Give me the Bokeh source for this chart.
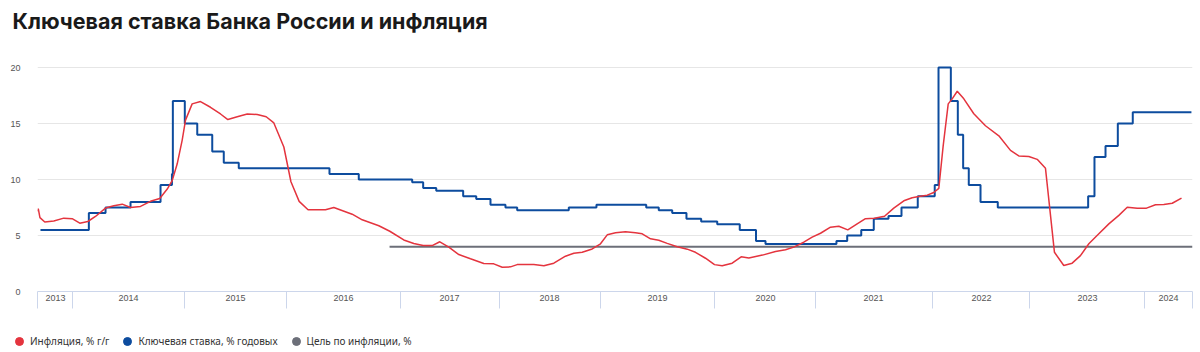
import numpy as np
from bokeh.plotting import figure
from bokeh.layouts import column
from bokeh.models import Range1d, FixedTicker, Legend, LegendItem, Label
from bokeh.embed import file_html
from bokeh.resources import INLINE

title_text = "Ключевая ставка Банка России и инфляция"

# x axis: year segments (ordinal-like axis, each year has its own width)
years = ["2013", "2014", "2015", "2016", "2017", "2018", "2019", "2020", "2021", "2022", "2023", "2024"]
year_axis_weight = [35, 112, 102, 114, 99, 101, 114, 101, 117, 97, 115, 48]
axis_start_t = 2013.6667
axis_end_t = 2024.45

y_ticks = [0, 5, 10, 15, 20]

# Key rate (step, value valid from date)
rate_t = [2013.695, 2014.146, 2014.295, 2014.518, 2014.786, 2014.888, 2014.896,
          2015.003, 2015.125, 2015.272, 2015.385, 2015.532,
          2016.377, 2016.634,
          2017.118, 2017.229, 2017.361, 2017.633, 2017.765, 2017.909,
          2018.059, 2018.175, 2018.686, 2018.960,
          2019.401, 2019.511, 2019.629, 2019.754, 2019.883,
          2020.027, 2020.250, 2020.411, 2020.505,
          2021.179, 2021.271, 2021.391, 2021.498, 2021.624, 2021.735, 2021.874,
          2022.023, 2022.062, 2022.189, 2022.261, 2022.316, 2022.374, 2022.495, 2022.673,
          2023.510, 2023.565, 2023.661, 2023.768, 2023.898, 2024.44]
rate_v = [5.5, 7.0, 7.5, 8.0, 9.5, 10.5, 17.0,
          15.0, 14.0, 12.5, 11.5, 11.0,
          10.5, 10.0,
          9.75, 9.25, 9.0, 8.5, 8.25, 7.75,
          7.5, 7.25, 7.5, 7.75,
          7.5, 7.25, 7.0, 6.5, 6.25,
          6.0, 5.5, 4.5, 4.25,
          4.5, 5.0, 5.5, 6.5, 6.75, 7.5, 8.5,
          9.5, 20.0, 17.0, 14.0, 11.0, 9.5, 8.0, 7.5,
          8.5, 12.0, 13.0, 15.0, 16.0, 16.0]

# Inflation, % y/y
infl_t = [2013.670, 2013.674, 2013.690, 2013.736, 2013.822, 2013.917, 2013.997,
          2014.065, 2014.137, 2014.205, 2014.295, 2014.369, 2014.444, 2014.518, 2014.607,
          2014.696, 2014.779, 2014.846, 2014.890, 2014.935, 2014.979,
          2015.010, 2015.075, 2015.157, 2015.255, 2015.353, 2015.425, 2015.517, 2015.615,
          2015.713, 2015.801, 2015.876, 2015.974,
          2016.039, 2016.111, 2016.189, 2016.342, 2016.415, 2016.576, 2016.664, 2016.810, 2016.906,
          2017.033, 2017.134, 2017.229, 2017.320, 2017.397, 2017.488, 2017.589, 2017.707,
          2017.841, 2017.942,
          2018.027, 2018.109, 2018.175, 2018.340, 2018.439, 2018.538, 2018.653, 2018.736,
          2018.819, 2018.918,
          2019.000, 2019.059, 2019.132, 2019.219, 2019.307, 2019.366, 2019.439, 2019.511,
          2019.585, 2019.673, 2019.761, 2019.833, 2019.921,
          2020.000, 2020.076, 2020.175, 2020.264, 2020.340, 2020.475, 2020.604, 2020.703,
          2020.785, 2020.884, 2020.967,
          2021.043, 2021.128, 2021.199, 2021.276, 2021.356, 2021.427, 2021.504, 2021.590,
          2021.669, 2021.755, 2021.826, 2021.883, 2021.955,
          2022.013, 2022.065, 2022.110, 2022.162, 2022.203, 2022.255, 2022.323, 2022.426,
          2022.546, 2022.684, 2022.804, 2022.890, 2022.993,
          2023.067, 2023.139, 2023.217, 2023.298, 2023.371, 2023.443, 2023.516, 2023.603,
          2023.690, 2023.777, 2023.850, 2023.937,
          2024.019, 2024.103, 2024.181, 2024.260, 2024.347]
infl_v = [7.15, 7.4, 6.6, 6.2, 6.3, 6.55, 6.5,
          6.1, 6.25, 6.7, 7.45, 7.65, 7.8, 7.5, 7.6,
          8.05, 8.3, 9.15, 9.9, 11.4, 13.5,
          15.3, 16.75, 16.96, 16.45, 15.85, 15.35, 15.6, 15.85,
          15.8, 15.6, 15.05, 12.9,
          9.8, 8.05, 7.3, 7.3, 7.5, 6.9, 6.4, 5.87, 5.38,
          4.6, 4.29, 4.1, 4.1, 4.44, 3.96, 3.3, 2.92,
          2.5, 2.47,
          2.17, 2.2, 2.4, 2.4, 2.3, 2.53, 3.15, 3.42,
          3.5, 3.8,
          4.26, 5.06, 5.24, 5.33, 5.24, 5.15, 4.7, 4.58,
          4.3, 4.0, 3.78, 3.5, 2.97,
          2.4, 2.3, 2.53, 3.1, 3.0, 3.25, 3.57, 3.72,
          3.96, 4.4, 4.85,
          5.2, 5.74, 5.83, 5.5, 6.04, 6.5, 6.55, 6.72,
          7.44, 8.1, 8.37, 8.48, 8.6,
          8.84, 9.2, 13.0, 16.75, 17.2, 17.88, 17.2, 15.87,
          14.8, 13.9, 12.6, 12.1, 12.05,
          11.8, 11.0, 3.5, 2.32, 2.53, 3.2, 4.26, 5.15,
          6.04, 6.8, 7.53, 7.44,
          7.44, 7.74, 7.77, 7.88, 8.33]

# Inflation target
target_t = [2016.904, 2024.45]
target_v = [4.0, 4.0]

legend_labels = ["Инфляция, % г/г", "Ключевая ставка, % годовых", "Цель по инфляции, %"]

RED = "#e4343e"
BLUE = "#0d4c9e"
GRAY = "#6c6f79"
AXIS = "#ccd6eb"

# --- axis mapping: date -> position on the ordinal-like axis
knots_t = [axis_start_t] + [float(y) for y in years[1:]] + [axis_end_t]
knots_pos = np.concatenate([[0.0], np.cumsum(year_axis_weight)])


def pos(t):
    return np.interp(np.asarray(t, dtype=float), knots_t, knots_pos)


total = float(knots_pos[-1])
bounds = [float(v) for v in knots_pos]
centers = [int(round((knots_pos[i] + knots_pos[i + 1]) / 2)) for i in range(len(years))]


def blank_strip(height):
    f = figure(width=1200, height=height, output_backend="svg", toolbar_location=None,
               x_range=Range1d(0, 1), y_range=Range1d(0, 1),
               x_axis_location=None, y_axis_location=None,
               min_border_left=0, min_border_right=0, min_border_top=0, min_border_bottom=0)
    f.outline_line_color = None
    f.xgrid.visible = False
    f.ygrid.visible = False
    f.frame_align = False
    return f


# ---- title strip
tf = blank_strip(44)
tf.add_layout(Label(x=12, y=24, x_units="screen", y_units="screen", text=title_text,
                    text_font="Inter", text_font_size="21.5px", text_font_style="bold",
                    text_color="#1a1a1a", text_baseline="alphabetic"))

# ---- main chart
p = figure(width=1200, height=287, output_backend="svg", toolbar_location=None,
           x_range=Range1d(0, total), y_range=Range1d(0, 20.625),
           min_border_left=37, min_border_right=8, min_border_top=16, min_border_bottom=40)
p.outline_line_color = None
p.background_fill_color = "white"
p.border_fill_color = "white"

xa = p.xaxis[0]
xa.ticker = FixedTicker(ticks=centers, minor_ticks=bounds)
xa.major_label_overrides = {c: y for c, y in zip(centers, years)}
xa.major_tick_out = 0
xa.major_tick_in = 0
xa.minor_tick_out = 17
xa.minor_tick_in = 0
xa.minor_tick_line_color = AXIS
xa.axis_line_color = AXIS
xa.major_label_text_font = "Liberation Sans"
xa.major_label_text_font_size = "9px"
xa.major_label_text_color = "#555555"
xa.major_label_standoff = -14

ya = p.yaxis[0]
ya.ticker = FixedTicker(ticks=y_ticks)
ya.axis_line_color = None
ya.major_tick_line_color = None
ya.minor_tick_line_color = None
ya.major_label_text_font = "Liberation Sans"
ya.major_label_text_font_size = "9px"
ya.major_label_text_color = "#555555"
ya.major_label_standoff = 11

p.xgrid.visible = False
p.ygrid.ticker = FixedTicker(ticks=[v for v in y_ticks if v > 0])
p.ygrid.grid_line_color = "#e6e6e6"

p.line(pos(target_t), target_v, line_color=GRAY, line_width=2)
p.step(pos(rate_t), rate_v, mode="after", line_color=BLUE, line_width=2)
p.line(pos(infl_t), infl_v, line_color=RED, line_width=1.5)

# ---- legend strip
lg = blank_strip(21)
# legend swatches: renderers with a single point placed outside the visible range
r1 = lg.scatter([-5], [-5], marker="circle", fill_color=RED, line_color=RED)
r2 = lg.scatter([-5], [-5], marker="circle", fill_color=BLUE, line_color=BLUE)
r3 = lg.scatter([-5], [-5], marker="circle", fill_color=GRAY, line_color=GRAY)
legend = Legend(items=[LegendItem(label=legend_labels[0], renderers=[r1]),
                       LegendItem(label=legend_labels[1], renderers=[r2]),
                       LegendItem(label=legend_labels[2], renderers=[r3])],
                orientation="horizontal", location=(9, 1),
                glyph_width=20, glyph_height=20, label_standoff=1, spacing=8,
                padding=0, margin=0, border_line_color=None, background_fill_alpha=0,
                label_text_font="Noto Sans", label_text_font_size="10px",
                label_text_color="#333333")
lg.add_layout(legend)

layout = column(tf, p, lg, spacing=0)
open("out.html", "w").write(file_html(layout, INLINE))
